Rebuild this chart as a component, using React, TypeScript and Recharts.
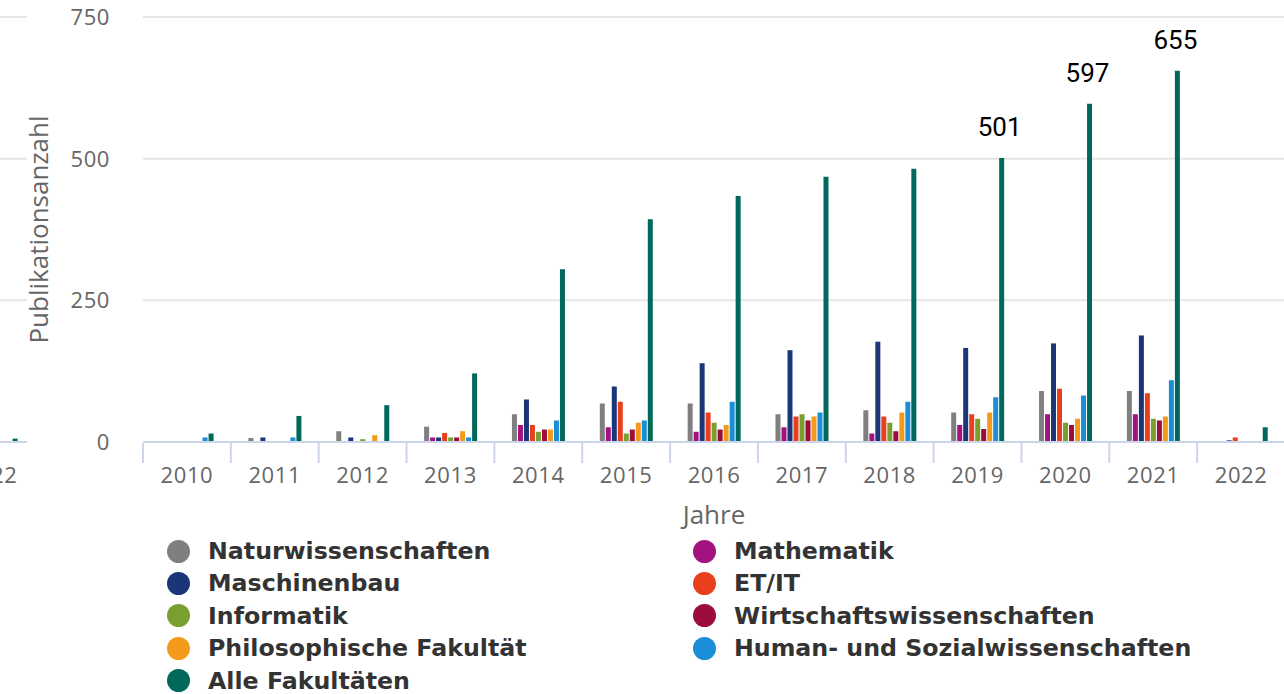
import React from 'react';
import { BarChart, Bar, XAxis, YAxis, CartesianGrid, LabelList, Label } from 'recharts';

// ---------- data ----------
const years = ['2010', '2011', '2012', '2013', '2014', '2015', '2016', '2017', '2018', '2019', '2020', '2021', '2022'];
const naturwissenschaften = [0, 7, 19, 27, 49, 68, 68, 49, 56, 52, 90, 90, 0];
const mathematik = [0, 0, 0, 8, 30, 26, 18, 26, 15, 30, 49, 49, 0];
const maschinenbau = [0, 8, 8, 8, 75, 98, 139, 162, 177, 166, 174, 188, 3];
const etit = [0, 0, 0, 16, 30, 71, 52, 45, 45, 49, 94, 86, 8];
const informatik = [0, 0, 5, 8, 18, 15, 34, 49, 34, 41, 34, 41, 0];
const wirtschaftswissenschaften = [0, 0, 0, 8, 22, 22, 22, 38, 19, 23, 30, 38, 0];
const philosophische = [0, 0, 12, 19, 22, 34, 30, 45, 52, 52, 41, 45, 0];
const humanSozial = [8, 8, 0, 8, 38, 38, 71, 52, 71, 79, 82, 109, 0];
const alleFakultaeten = [15, 46, 65, 121, 305, 393, 434, 468, 482, 501, 597, 655, 26];

// partially visible neighbouring panel at the left edge (only its last year shows)
const prevYears = ['2022'];
const prevAlle = [6];

const yTicks = [0, 250, 500, 750];
const labelThreshold = 500;

const series = [
  { key: 'nat', name: 'Naturwissenschaften', color: '#7f7f7f', values: naturwissenschaften },
  { key: 'mat', name: 'Mathematik', color: '#a3137f', values: mathematik },
  { key: 'mb', name: 'Maschinenbau', color: '#1b3579', values: maschinenbau },
  { key: 'et', name: 'ET/IT', color: '#e8401c', values: etit },
  { key: 'inf', name: 'Informatik', color: '#7a9f31', values: informatik },
  { key: 'ww', name: 'Wirtschaftswissenschaften', color: '#9c0c3c', values: wirtschaftswissenschaften },
  { key: 'phil', name: 'Philosophische Fakultät', color: '#f39a1b', values: philosophische },
  { key: 'hs', name: 'Human- und Sozialwissenschaften', color: '#1a8fd7', values: humanSozial },
  { key: 'all', name: 'Alle Fakultäten', color: '#00695c', values: alleFakultaeten },
];

const data = years.map((y, i) => {
  const row: any = { year: y };
  series.forEach((s) => (row[s.key] = s.values[i]));
  return row;
});

const prevData = prevYears.map((y, i) => {
  const row: any = { year: y };
  series.forEach((s) => (row[s.key] = s.key === 'all' ? prevAlle[i] : 0));
  return row;
});

const AXIS_FONT = '"Open Sans", "DejaVu Sans", sans-serif';
const LEGEND_FONT = '"DejaVu Sans", "Open Sans", sans-serif';

const XTick = (props: any) => {
  const { x, y, payload } = props;
  const half = payload && typeof payload.offset === 'number' ? payload.offset : 0;
  return (
    <g>
      <line x1={x - half} x2={x - half} y1={y + 1} y2={y + 21} stroke="#ccd6eb" strokeWidth={2} />
      <text x={x} y={y + 41} textAnchor="middle" fill="#666666" fontSize={22} fontFamily={AXIS_FONT} letterSpacing={0.6}>
        {payload.value}
      </text>
    </g>
  );
};

const YTick = (props: any) => {
  const { x, y, payload } = props;
  return (
    <text x={x} y={y} dy={8} textAnchor="end" fill="#666666" fontSize={22} fontFamily={AXIS_FONT} letterSpacing={0.6}>
      {payload.value}
    </text>
  );
};

const YTitle = (props: any) => {
  const vb = props.viewBox || { x: 0, y: 0, width: 0, height: 0 };
  const cx = vb.x + 38;
  const cy = vb.y + vb.height / 2;
  return (
    <text
      x={cx}
      y={cy}
      transform={`rotate(-90 ${cx} ${cy})`}
      textAnchor="middle"
      dominantBaseline="central"
      fill="#666666"
      fontSize={26}
      fontFamily={AXIS_FONT}
    >
      Publikationsanzahl
    </text>
  );
};

const XTitle = (props: any) => {
  const vb = props.viewBox || { x: 0, y: 0, width: 0, height: 0 };
  return (
    <text x={vb.x + vb.width / 2} y={vb.y + 82} textAnchor="middle" fill="#666666" fontSize={26} fontFamily={AXIS_FONT}>
      Jahre
    </text>
  );
};

const TopLabel = (props: any) => {
  const { x, y, width, value } = props;
  if (value == null || value <= labelThreshold) return null;
  return (
    <text x={x + width / 2 - 2} y={y - 22} textAnchor="middle" fill="#000000" fontSize={26} fontFamily="Roboto, sans-serif">
      {value}
    </text>
  );
};

const renderBars = (withLabels: boolean) =>
  series.map((s) => (
    <Bar key={s.key} dataKey={s.key} name={s.name} fill={s.color} isAnimationActive={false}>
      {withLabels && s.key === 'all' ? <LabelList dataKey="all" content={<TopLabel />} /> : null}
    </Bar>
  ));

const chartMargin = { top: 17, right: 0, bottom: 192, left: 0 };

export default function App() {
  return (
    <div
      style={{
        position: 'fixed',
        left: 0,
        top: 0,
        width: 1284,
        height: 694,
        overflow: 'hidden',
        background: '#ffffff',
        fontFamily: AXIS_FONT,
      }}
    >
      {/* neighbouring panel, clipped */}
      <div style={{ position: 'absolute', left: 0, top: 0, width: 27, height: 520, overflow: 'hidden' }}>
        <div style={{ position: 'absolute', left: -53, top: 0 }}>
          <BarChart width={88} height={694} data={prevData} margin={chartMargin} barCategoryGap="20%" barGap={1}>
            <CartesianGrid horizontal vertical={false} stroke="#e6e6e6" strokeWidth={2} />
            <YAxis hide domain={[0, 750]} ticks={yTicks} />
            <XAxis
              dataKey="year"
              height={60}
              axisLine={{ stroke: '#ccd6eb', strokeWidth: 2 }}
              tickLine={false}
              tickSize={0}
              tickMargin={0}
              tick={<XTick />}
              interval={0}
            />
            {renderBars(false)}
          </BarChart>
        </div>
      </div>

      {/* main chart */}
      <div style={{ position: 'absolute', left: 0, top: 0 }}>
        <BarChart width={1285} height={694} data={data} margin={chartMargin} barCategoryGap="20%" barGap={1}>
          <CartesianGrid horizontal vertical={false} stroke="#e6e6e6" strokeWidth={2} />
          <YAxis
            width={143}
            domain={[0, 750]}
            ticks={yTicks}
            axisLine={false}
            tickLine={false}
            tickSize={0}
            tickMargin={33}
            tick={<YTick />}
            interval={0}
          >
            <Label content={<YTitle />} />
          </YAxis>
          <XAxis
            dataKey="year"
            height={60}
            axisLine={{ stroke: '#ccd6eb', strokeWidth: 2 }}
            tickLine={false}
            tickSize={0}
            tickMargin={0}
            tick={<XTick />}
            interval={0}
          >
            <Label content={<XTitle />} />
          </XAxis>
          {renderBars(true)}
        </BarChart>
      </div>

      {/* legend */}
      {series.map((s, i) => {
        const col = i % 2;
        const row = Math.floor(i / 2);
        return (
          <div
            key={s.key}
            style={{
              position: 'absolute',
              left: col === 0 ? 167 : 693,
              top: 535 + row * 32.4,
              height: 32,
              display: 'flex',
              alignItems: 'center',
              whiteSpace: 'nowrap',
            }}
          >
            <span
              style={{
                display: 'inline-block',
                width: 23,
                height: 23,
                borderRadius: '50%',
                background: s.color,
                marginRight: 18,
              }}
            />
            <span style={{ fontFamily: LEGEND_FONT, fontWeight: 700, fontSize: 23.7, color: '#333333', lineHeight: '32px' }}>
              {s.name}
            </span>
          </div>
        );
      })}
    </div>
  );
}
